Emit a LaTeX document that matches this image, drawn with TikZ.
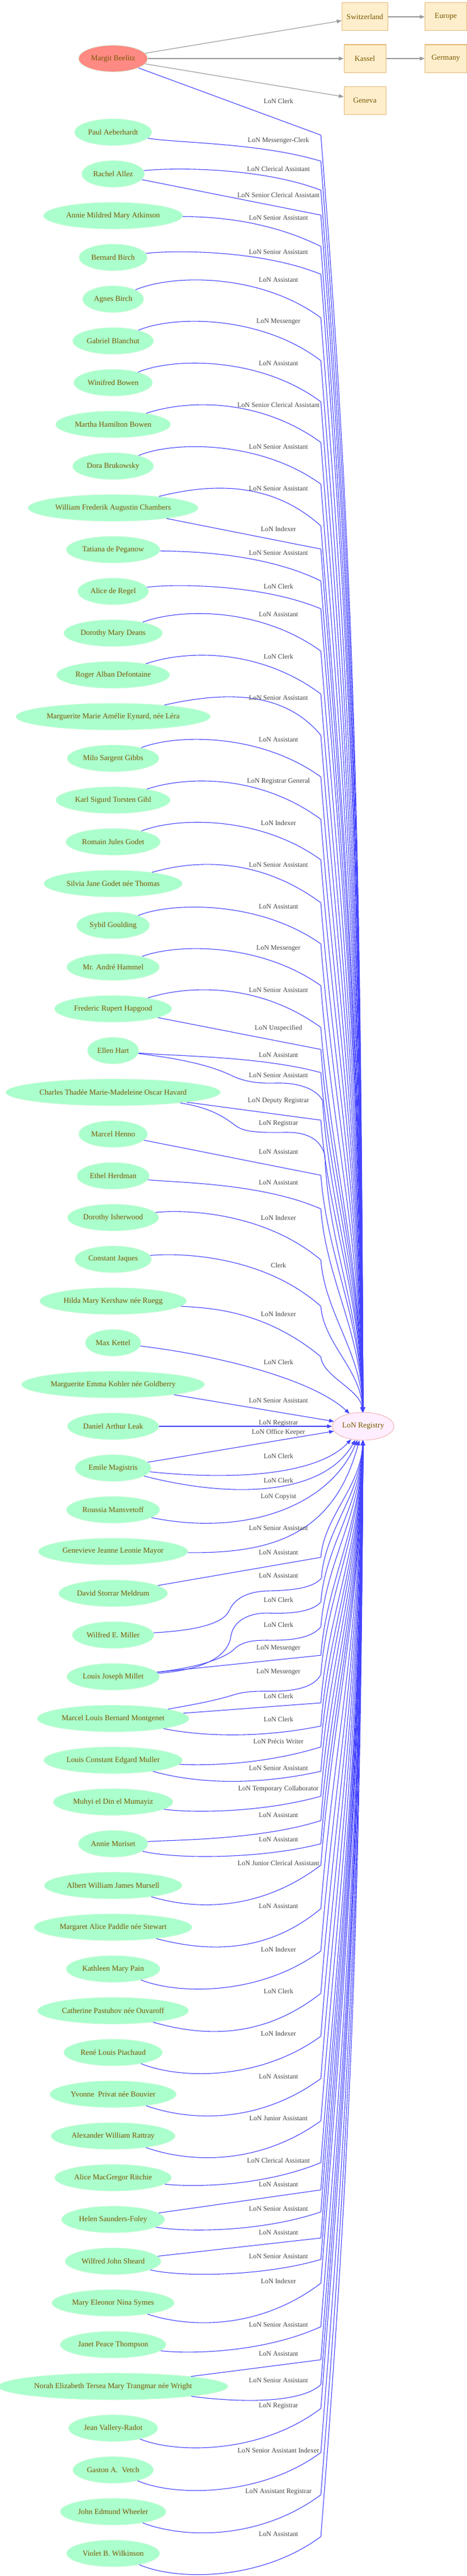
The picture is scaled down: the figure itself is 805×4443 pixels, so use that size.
\documentclass[tikz,border=0pt]{standalone}
\usepackage{fontspec}
\setmainfont{Liberation Serif}
\usetikzlibrary{arrows.meta,shapes.geometric}
\definecolor{pfill}{HTML}{AAFFCC}
\definecolor{pline}{HTML}{D4FADF}
\definecolor{ntext}{HTML}{7A5800}
\definecolor{bfill}{HTML}{FFEECC}
\definecolor{bline}{HTML}{E6B878}
\definecolor{mfill}{HTML}{FF8A84}
\definecolor{rfill}{HTML}{FFEEFF}
\definecolor{rline}{HTML}{EFA8A8}
\definecolor{eblue}{HTML}{4444FF}
\definecolor{egray}{HTML}{999999}
\definecolor{ltext}{HTML}{444444}
\newcounter{labn}
\newcommand\tailcalc[1]{%
  \pgfmathsetmacro\tdd{abs(#1-2460)-24}%
  \pgfmathsetmacro\tsg{ifthenelse(#1<2460,1,-1)}%
  \pgfmathsetmacro\tax{553+0.028*\tdd}%
  \pgfmathsetmacro\tay{#1+\tsg*0.35*\tdd}%
  \pgfmathsetmacro\tby{#1+\tsg*0.6*\tdd}%
}
\newcommand\elab[2]{\stepcounter{labn}\node[lab] (lab\arabic{labn}) at (480,#1) {#2};}
\newcommand\ecurve[8]{%
  \tailcalc{#4}%
  \pgfmathsetmacro\tdc{#3-(#2+#4-2*#3)/6}%
  \draw[bl] (#1) .. controls (#5,\tdc) and (#6,\tdc) .. (553,#4) .. controls (\tax,\tay) and (622,\tby) .. (reg);
  \elab{#7}{#8}}
\newcommand\estr[4]{%
  \tailcalc{#2}%
  \draw[bl] (#1) -- (553,#2) .. controls (\tax,\tay) and (622,\tby) .. (reg);
  \elab{#3}{#4}}
\tikzset{
  person/.style={ellipse, draw=pline, fill=pfill, line width=0.8pt, minimum height=46pt, inner xsep=4pt, inner ysep=2pt, text=ntext, font=\fontsize{13.2}{15}\selectfont},
  place/.style={rectangle, draw=bline, fill=bfill, line width=1pt, minimum height=48pt, minimum width=72pt, text=ntext, font=\fontsize{13.2}{15}\selectfont},
  lab/.style={text=ltext, font=\fontsize{11.8}{13}\selectfont, inner sep=0pt},
  bl/.style={draw=eblue, line width=1.1pt, -{Triangle[length=8.5pt,width=6.5pt]}},
  gr/.style={draw=egray, line width=1.1pt, -{Triangle[length=8.5pt,width=6.5pt]}},
}
\begin{document}
\begin{tikzpicture}[x=1pt,y=-1pt]
\useasboundingbox (0,0) rectangle (805,4443);
% places
\node[place, inner xsep=8pt] (swi) at (629,29) {Switzerland};
\node[place] (eur) at (768.5,29) {Europe};
\node[place] (kas) at (629,101) {Kassel};
\node[place] (ger) at (768.5,101) {Germany};
\node[place] (gen) at (629,173) {Geneva};
\node[person, fill=mfill] (marg) at (195,101) {Margit Beelitz};
\node[ellipse, draw=rline, fill=rfill, line width=0.8pt, minimum height=48pt, inner xsep=1.5pt, text=ntext, font=\fontsize{13.2}{15}\selectfont] (reg) at (626,2460) {LoN Registry};
% persons
\node[person] (p1) at (195,228) {Paul Aeberhardt};
\node[person] (p2) at (195,300) {Rachel Allez};
\node[person] (p3) at (195,372) {Annie Mildred Mary Atkinson};
\node[person] (p4) at (195,444) {Bernard Birch};
\node[person] (p5) at (195,516) {Agnes Birch};
\node[person] (p6) at (195,588) {Gabriel Blanchut};
\node[person] (p7) at (195,660) {Winifred Bowen};
\node[person] (p8) at (195,732) {Martha Hamilton Bowen};
\node[person] (p9) at (195,804) {Dora Brukowsky};
\node[person] (p10) at (195,876) {William Frederik Augustin Chambers};
\node[person] (p11) at (195,948) {Tatiana de Peganow};
\node[person] (p12) at (195,1020) {Alice de Regel};
\node[person] (p13) at (195,1092) {Dorothy Mary Deans};
\node[person] (p14) at (195,1164) {Roger Alban Defontaine};
\node[person] (p15) at (195,1236) {Marguerite Marie Amélie Eynard, née Léra};
\node[person] (p16) at (195,1308) {Milo Sargent Gibbs};
\node[person] (p17) at (195,1380) {Karl Sigurd Torsten Gihl};
\node[person] (p18) at (195,1452) {Romain Jules Godet};
\node[person] (p19) at (195,1524) {Silvia Jane Godet née Thomas};
\node[person] (p20) at (195,1596) {Sybil Goulding};
\node[person] (p21) at (195,1668) {Mr. André Hammel};
\node[person] (p22) at (195,1740) {Frederic Rupert Hapgood};
\node[person] (p23) at (195,1812) {Ellen Hart};
\node[person] (p24) at (195,1884) {Charles Thadée Marie-Madeleine Oscar Havard};
\node[person] (p25) at (195,1956) {Marcel Henno};
\node[person] (p26) at (195,2028) {Ethel Herdman};
\node[person] (p27) at (195,2100) {Dorothy Isherwood};
\node[person] (p28) at (195,2172) {Constant Jaques};
\node[person] (p29) at (195,2244) {Hilda Mary Kershaw née Ruegg};
\node[person] (p30) at (195,2316) {Max Kettel};
\node[person] (p31) at (195,2388) {Marguerite Emma Kohler née Goldberry};
\node[person] (p32) at (195,2460) {Daniel Arthur Leak};
\node[person] (p33) at (195,2532) {Emile Magistris};
\node[person] (p34) at (195,2604) {Roussia Mansvetoff};
\node[person] (p35) at (195,2676) {Genevieve Jeanne Leonie Mayor};
\node[person] (p36) at (195,2748) {David Storrar Meldrum};
\node[person] (p37) at (195,2820) {Wilfred E. Miller};
\node[person] (p38) at (195,2892) {Louis Joseph Millet};
\node[person] (p39) at (195,2964) {Marcel Louis Bernard Montgenet};
\node[person] (p40) at (195,3036) {Louis Constant Edgard Muller};
\node[person] (p41) at (195,3108) {Muhyi el Din el Mumayiz};
\node[person] (p42) at (195,3180) {Annie Muriset};
\node[person] (p43) at (195,3252) {Albert William James Mursell};
\node[person] (p44) at (195,3324) {Margaret Alice Paddle née Stewart};
\node[person] (p45) at (195,3396) {Kathleen Mary Pain};
\node[person] (p46) at (195,3468) {Catherine Pastuhov née Ouvaroff};
\node[person] (p47) at (195,3540) {René Louis Piachaud};
\node[person] (p48) at (195,3612) {Yvonne~~Privat née Bouvier};
\node[person] (p49) at (195,3684) {Alexander William Rattray};
\node[person] (p50) at (195,3756) {Alice MacGregor Ritchie};
\node[person] (p51) at (195,3828) {Helen Saunders-Foley};
\node[person] (p52) at (195,3900) {Wilfred John Sheard};
\node[person] (p53) at (195,3972) {Mary Eleonor Nina Symes};
\node[person] (p54) at (195,4044) {Janet Peace Thompson};
\node[person] (p55) at (195,4116) {Norah Elizabeth Tersea Mary Trangmar née Wright};
\node[person] (p56) at (195,4188) {Jean Vallery-Radot};
\node[person] (p57) at (195,4260) {Gaston A.~~Vetch};
\node[person] (p58) at (195,4332) {John Edmund Wheeler};
\node[person] (p59) at (195,4404) {Violet B. Wilkinson};
% gray edges
\draw[gr] (marg) -- (swi);
\draw[gr] (marg) -- (kas);
\draw[gr] (marg) -- (gen);
\draw[gr] (swi) -- (eur);
\draw[gr] (kas) -- (ger);
% blue edges
\estr{marg}{233}{174}{LoN Clerk}
\ecurve{p1}{228}{248}{278}{300}{450}{243}{LoN Messenger-Clerk}
\ecurve{p2}{300}{295}{328}{300}{450}{291}{LoN Clerical Assistant}
\estr{p2}{371}{336}{LoN Senior Clerical Assistant}
\ecurve{p3}{372}{380}{425}{344}{450}{376}{LoN Senior Assistant}
\ecurve{p4}{444}{438}{473}{300}{450}{435}{LoN Senior Assistant}
\ecurve{p5}{516}{487}{548}{300}{450}{483}{LoN Assistant}
\ecurve{p6}{588}{559}{622}{300}{450}{555}{LoN Messenger}
\ecurve{p7}{660}{631}{693}{300}{450}{627}{LoN Assistant}
\ecurve{p8}{732}{703}{763}{326}{450}{698}{LoN Senior Clerical Assistant}
\ecurve{p9}{804}{775}{835}{300}{450}{771}{LoN Senior Assistant}
\ecurve{p10}{876}{847}{907}{370}{470}{843}{LoN Senior Assistant}
\estr{p10}{947}{912}{LoN Indexer}
\ecurve{p11}{948}{957}{1002}{310}{450}{954}{LoN Senior Assistant}
\ecurve{p12}{1020}{1014}{1050}{300}{450}{1011}{LoN Clerk}
\ecurve{p13}{1092}{1063}{1123}{313}{450}{1060}{LoN Assistant}
\ecurve{p14}{1164}{1135}{1197}{325}{450}{1132}{LoN Clerk}
\ecurve{p15}{1236}{1207}{1268}{390}{490}{1204}{LoN Senior Assistant}
\ecurve{p16}{1308}{1280}{1340}{307}{450}{1276}{LoN Assistant}
\ecurve{p17}{1380}{1352}{1413}{326}{450}{1348}{LoN Registrar General}
\ecurve{p18}{1452}{1423}{1483}{309}{450}{1419}{LoN Indexer}
\ecurve{p19}{1524}{1496}{1557}{343}{450}{1492}{LoN Senior Assistant}
\ecurve{p20}{1596}{1569}{1628}{300}{450}{1564}{LoN Assistant}
\ecurve{p21}{1668}{1641}{1700}{307}{450}{1636}{LoN Messenger}
\ecurve{p22}{1740}{1712}{1772}{331}{450}{1708}{LoN Senior Assistant}
\estr{p22}{1810}{1774}{LoN Unspecified}
\ecurve{p23}{1812}{1824}{1850}{300}{450}{1820}{LoN Assistant}
\tailcalc{1898}
\draw[bl] (p23) .. controls (330,1828) and (370,1842) .. (395,1853) .. controls (420,1866) and (445,1869) .. (475,1868) .. controls (515,1867) and (545,1878) .. (556,1898) .. controls (\tax,\tay) and (622,\tby) .. (reg);
\elab{1855}{LoN Senior Assistant}
\estr{p24}{1932}{1899}{LoN Deputy Registrar}
\tailcalc{1992}
\draw[bl] (p24) .. controls (372,1912) and (392,1932) .. (410,1944) .. controls (428,1955) and (465,1953) .. (495,1953) .. controls (530,1953) and (552,1965) .. (560,1992) .. controls (\tax,\tay) and (622,\tby) .. (reg);
\elab{1938}{LoN Registrar}
\estr{p25}{2027}{1987}{LoN Assistant}
\ecurve{p26}{2028}{2044}{2085}{300}{450}{2040}{LoN Assistant}
\ecurve{p27}{2100}{2099}{2173}{307}{450}{2100}{LoN Indexer}
\ecurve{p28}{2172}{2174}{2253}{300}{450}{2182}{Clerk}
\ecurve{p29}{2244}{2265}{2340}{352}{452}{2266}{LoN Indexer}
\draw[bl] (p30) .. controls (380,2338) and (540,2380) .. (reg);
\elab{2349}{LoN Clerk}
\draw[bl] (p31) -- (reg);
\elab{2416}{LoN Senior Assistant}
\draw[bl] (p32) -- (reg);
\elab{2455}{LoN Registrar}
\draw[bl] (p33) -- (reg);
\elab{2471}{LoN Office Keeper}
\draw[bl] (p33) .. controls (420,2555) and (552,2540) .. (reg);
\elab{2511}{LoN Clerk}
\draw[bl] (p33) .. controls (400,2585) and (557,2580) .. (reg);
\elab{2553}{LoN Clerk}
\draw[bl] (p34) .. controls (420,2650) and (567,2600) .. (reg);
\elab{2582}{LoN Copyist}
\draw[bl] (p35) .. controls (480,2680) and (577,2640) .. (reg);
\elab{2636}{LoN Senior Assistant}
\estr{p36}{2686}{2678}{LoN Assistant}
\tailcalc{2722}
\draw[bl] (p37) .. controls (340,2812) and (385,2800) .. (395,2778) .. controls (405,2755) and (430,2745) .. (460,2744) .. controls (510,2743) and (540,2738) .. (554,2722) .. controls (\tax,\tay) and (622,\tby) .. (reg);
\elab{2718}{LoN Assistant}
\tailcalc{2763}
\draw[bl] (p38) .. controls (350,2880) and (393,2858) .. (398,2822) .. controls (402,2795) and (430,2782) .. (460,2782) .. controls (510,2784) and (540,2778) .. (553,2763) .. controls (\tax,\tay) and (622,\tby) .. (reg);
\elab{2759}{LoN Clerk}
\tailcalc{2806}
\draw[bl] (p38) .. controls (345,2876) and (392,2858) .. (405,2843) .. controls (420,2830) and (440,2829) .. (462,2829) .. controls (512,2830) and (540,2822) .. (553,2806) .. controls (\tax,\tay) and (622,\tby) .. (reg);
\elab{2802}{LoN Clerk}
\estr{p38}{2855}{2843}{LoN Messenger}
\tailcalc{2888}
\draw[bl] (p39) .. controls (335,2940) and (375,2932) .. (400,2924) .. controls (425,2916) and (445,2917) .. (470,2917) .. controls (520,2917) and (545,2905) .. (553,2888) .. controls (\tax,\tay) and (622,\tby) .. (reg);
\elab{2884}{LoN Messenger}
\estr{p39}{2937}{2925}{LoN Clerk}
\ecurve{p39}{2964}{2990}{2977}{357}{457}{2965}{LoN Clerk}
\ecurve{p40}{3036}{3040}{3013}{346}{450}{3003}{LoN Précis Writer}
\ecurve{p40}{3036}{3070}{3055}{346}{450}{3050}{LoN Senior Assistant}
\ecurve{p41}{3108}{3121}{3098}{328}{450}{3086}{LoN Temporary Collaborator}
\ecurve{p42}{3180}{3170}{3140}{300}{450}{3131}{LoN Assistant}
\ecurve{p42}{3180}{3200}{3180}{300}{450}{3173}{LoN Assistant}
\ecurve{p43}{3252}{3280}{3217}{341}{450}{3213}{LoN Junior Clerical Assistant}
\ecurve{p44}{3324}{3353}{3292}{362}{462}{3288}{LoN Assistant}
\ecurve{p45}{3396}{3426}{3365}{310}{450}{3362}{LoN Indexer}
\ecurve{p46}{3468}{3499}{3438}{356}{456}{3434}{LoN Clerk}
\ecurve{p47}{3540}{3572}{3512}{313}{450}{3507}{LoN Indexer}
\ecurve{p48}{3612}{3645}{3585}{334}{450}{3582}{LoN Assistant}
\ecurve{p49}{3684}{3717}{3658}{332}{450}{3654}{LoN Junior Assistant}
\ecurve{p50}{3756}{3765}{3730}{327}{450}{3726}{LoN Clerical Assistant}
\estr{p51}{3777}{3768}{LoN Assistant}
\ecurve{p51}{3828}{3843}{3815}{319}{450}{3810}{LoN Senior Assistant}
\estr{p52}{3860}{3851}{LoN Assistant}
\ecurve{p52}{3900}{3920}{3897}{311}{450}{3892}{LoN Senior Assistant}
\ecurve{p53}{3972}{4001}{3938}{331}{450}{3934}{LoN Indexer}
\ecurve{p54}{4044}{4052}{4013}{319}{450}{4010}{LoN Senior Assistant}
\estr{p55}{4070}{4060}{LoN Assistant}
\ecurve{p55}{4116}{4137}{4113}{419}{519}{4106}{LoN Senior Assistant}
\ecurve{p56}{4188}{4217}{4154}{305}{450}{4150}{LoN Registrar}
\ecurve{p57}{4260}{4291}{4230}{300}{450}{4226}{LoN Senior Assistant Indexer}
\ecurve{p58}{4332}{4364}{4303}{320}{450}{4298}{LoN Assistant Registrar}
\ecurve{p59}{4404}{4436}{4375}{305}{450}{4371}{LoN Assistant}
\end{tikzpicture}
\end{document}
